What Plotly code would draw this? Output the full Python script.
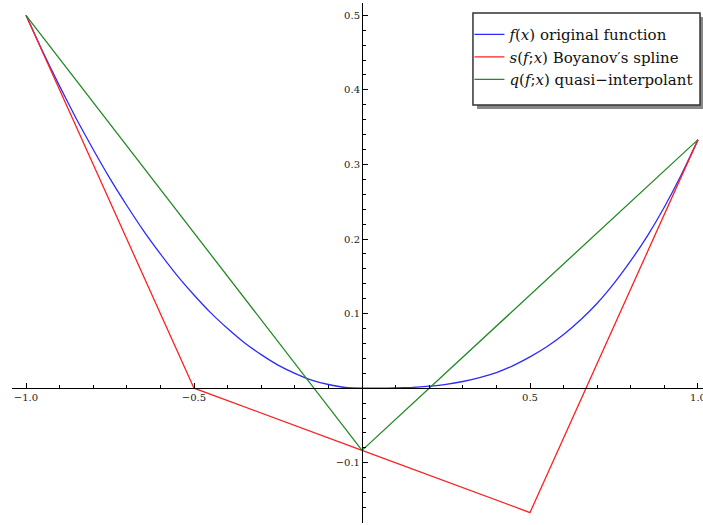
import plotly.graph_objects as go

# Blue curve: original function values
f_x = [-1.0, -0.95, -0.9, -0.85, -0.8, -0.75, -0.7, -0.65, -0.6, -0.55, -0.5,
       -0.45, -0.4, -0.35, -0.3, -0.25, -0.2, -0.15, -0.1, -0.05, 0.0,
       0.05, 0.1, 0.15, 0.2, 0.25, 0.3, 0.35, 0.4, 0.45, 0.5,
       0.55, 0.6, 0.65, 0.7, 0.75, 0.8, 0.85, 0.9, 0.95, 1.0]
f_y = [0.5, 0.451, 0.405, 0.361, 0.32, 0.281, 0.245, 0.211, 0.18, 0.151, 0.125,
       0.101, 0.08, 0.061, 0.045, 0.031, 0.02, 0.011, 0.005, 0.001, 0.0,
       0.00004, 0.0003, 0.0011, 0.0027, 0.0052, 0.009, 0.0143, 0.021, 0.0304, 0.042,
       0.0555, 0.072, 0.0915, 0.114, 0.1406, 0.171, 0.2047, 0.243, 0.2858, 0.333]

# Red: Boyanov's spline
s_x = [-1.0, -0.5, 0.0, 0.5, 1.0]
s_y = [0.5, 0.0, -0.0833, -0.1667, 0.3333]

# Green: quasi-interpolant
q_x = [-1.0, 0.0, 1.0]
q_y = [0.5, -0.0833, 0.3333]

x_ticks = [-1.0, -0.5, 0.5, 1.0]
x_labels = ["\u22121.0", "\u22120.5", "0.5", "1.0"]
y_ticks = [-0.1, 0.1, 0.2, 0.3, 0.4, 0.5]
y_labels = ["\u22120.1", "0.1", "0.2", "0.3", "0.4", "0.5"]

names = ["<i>f</i>(<i>x</i>) original function",
         "<i>s</i>(<i>f</i>;<i>x</i>) Boyanov\u2032s spline",
         "<i>q</i>(<i>f</i>;<i>x</i>) quasi\u2212interpolant"]

xr = [-1.0417, 1.0149]
yr = [-0.1807, 0.5165]

SERIF = "DejaVu Serif"

fig = go.Figure()
fig.add_trace(go.Scatter(x=f_x, y=f_y, mode="lines", name=names[0], legendgroup="a",
                         line=dict(color="#2b2bff", width=1.3, shape="spline", smoothing=0.5)))
fig.add_trace(go.Scatter(x=s_x, y=s_y, mode="lines", name=names[1], legendgroup="b",
                         line=dict(color="#ff2020", width=1.3)))
fig.add_trace(go.Scatter(x=q_x, y=q_y, mode="lines", name=names[2], legendgroup="c",
                         line=dict(color="#228b22", width=1.3)))

tickfont = dict(family=SERIF, size=10, color="#222")

fig.update_layout(
    width=703, height=525,
    margin=dict(l=12, r=0, t=3, b=2),
    paper_bgcolor="white", plot_bgcolor="white",
    showlegend=True,
    legend=dict(x=0.662, y=0.971, xanchor="left", yanchor="top",
                bgcolor="rgba(0,0,0,0)", borderwidth=0,
                font=dict(family=SERIF, size=15, color="#111"),
                itemwidth=30, tracegroupgap=0),
    xaxis=dict(range=xr, anchor="free", position=(0 - yr[0]) / (yr[1] - yr[0]),
               showgrid=False, zeroline=False, showline=True, linecolor="black", linewidth=1,
               tickvals=x_ticks, ticktext=x_labels, ticks="inside", ticklen=5,
               tickcolor="black", tickfont=tickfont, automargin=False,
               ticklabeloverflow="allow",
               minor=dict(dtick=0.1, tick0=0, ticks="inside", ticklen=3, tickcolor="black", showgrid=False)),
    yaxis=dict(range=yr, anchor="free", position=(0 - xr[0]) / (xr[1] - xr[0]),
               showgrid=False, zeroline=False, showline=True, linecolor="black", linewidth=1,
               tickvals=y_ticks, ticktext=y_labels, ticks="inside", ticklen=5,
               tickcolor="black", tickfont=tickfont, automargin=False,
               ticklabeloverflow="allow",
               minor=dict(dtick=0.02, tick0=0, ticks="inside", ticklen=3, tickcolor="black", showgrid=False)),
)

# legend drop shadow and frame
fig.add_shape(type="rect", xref="paper", yref="paper",
              x0=0.6729, x1=1.0, y0=0.796, y1=0.973,
              fillcolor="#888", line=dict(width=0), layer="above")
fig.add_shape(type="rect", xref="paper", yref="paper",
              x0=0.6671, x1=0.9957, y0=0.8038, y1=0.9808,
              fillcolor="white", line=dict(color="#333", width=1.5), layer="above")

fig.write_html("out.html")
